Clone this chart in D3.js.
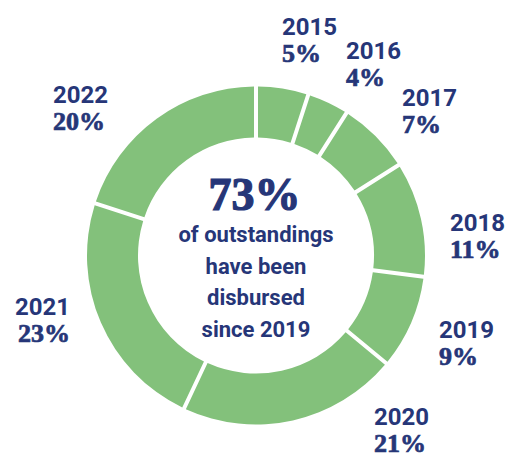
<!DOCTYPE html>
<html>
<head>
<meta charset="utf-8">
<script src="https://cdn.jsdelivr.net/npm/d3@7"></script>
<style>
  body { margin: 0; background: #fff; }
  svg { display: block; }
</style>
</head>
<body>
<svg id="chart" width="514" height="457"></svg>
<script>
// share of outstandings by disbursement year
const years = ["2015", "2016", "2017", "2018", "2019", "2020", "2021", "2022"];
const shares = [5, 4, 7, 11, 9, 21, 23, 20];
const centerLines = ["of outstandings", "have been", "disbursed", "since 2019"];
const centerValue = "73%";

// where each year's label sits (baseline-left of the year text), set by hand like the original
const labelPos = [
  [282, 35], [346, 59], [402, 106], [450, 231],
  [439, 338], [374, 425], [15, 315], [53, 103]
];

const width = 514, height = 457;
const cx = 256, cy = 255.5;
const outerR = 169, innerR = 118;
const green = "#83c17b";
const navy = "#263678";

const svg = d3.select("#chart");
const g = svg.append("g").attr("transform", `translate(${cx},${cy})`);

const data = years.map((y, i) => ({ year: y, value: shares[i] }));

const pie = d3.pie().sort(null).value(d => d.value);
const arc = d3.arc()
  .innerRadius(innerR)
  .outerRadius(outerR)
  .padAngle(4 / outerR)
  .padRadius(outerR);

g.selectAll("path.slice")
  .data(pie(data))
  .join("path")
  .attr("class", "slice")
  .attr("d", arc)
  .attr("fill", green);

// year + percentage labels around the ring
const labels = svg.selectAll("g.label")
  .data(data)
  .join("g")
  .attr("class", "label")
  .attr("transform", (d, i) => `translate(${labelPos[i][0]},${labelPos[i][1]})`);

labels.append("text")
  .attr("x", 0)
  .attr("y", 0)
  .attr("fill", navy)
  .attr("font-family", "Roboto, sans-serif")
  .attr("font-weight", 700)
  .attr("font-size", 24)
  .text(d => d.year);

labels.append("text")
  .attr("x", (d, i) => i === 6 ? 3 : 0)
  .attr("y", 26.5)
  .attr("fill", navy)
  .attr("stroke", navy)
  .attr("stroke-width", 0.7)
  .attr("font-family", "'Liberation Serif', serif")
  .attr("font-weight", 700)
  .attr("font-size", 26)
  .text(d => d3.format("d")(d.value) + "%");

// centre text
svg.append("text")
  .attr("x", 254.5)
  .attr("y", 210)
  .attr("text-anchor", "middle")
  .attr("fill", navy)
  .attr("stroke", navy)
  .attr("stroke-width", 1.2)
  .attr("font-family", "'Liberation Serif', serif")
  .attr("font-weight", 700)
  .attr("font-size", 46)
  .text(centerValue);

svg.selectAll("text.center")
  .data(centerLines)
  .join("text")
  .attr("class", "center")
  .attr("x", 256)
  .attr("y", (d, i) => 242 + i * 31.7)
  .attr("text-anchor", "middle")
  .attr("fill", navy)
  .attr("font-family", "Roboto, sans-serif")
  .attr("font-weight", 700)
  .attr("font-size", 22)
  .text(d => d);
</script>
</body>
</html>
